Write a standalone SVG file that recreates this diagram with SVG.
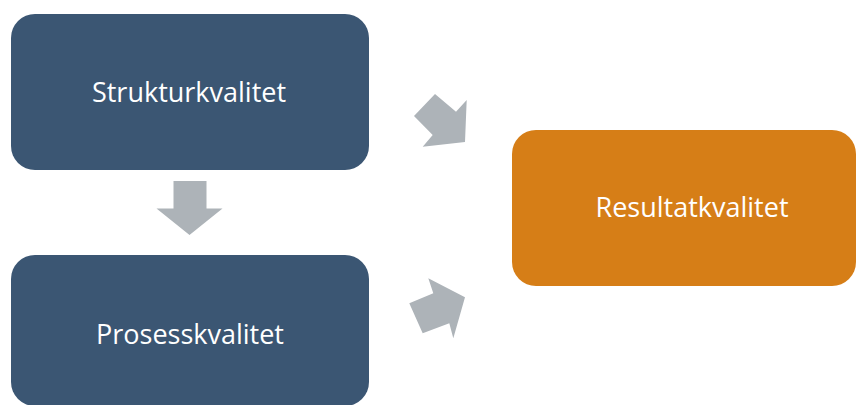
<svg xmlns="http://www.w3.org/2000/svg" width="857" height="405" viewBox="0 0 857 405">
<style>
.blue{fill:#3B5673}
.orange{fill:#D67E17}
.arrow{fill:#ADB3B8}
.lbl{font-family:"Open Sans","Liberation Sans",sans-serif;font-size:27px;fill:#FFFFFF;text-anchor:middle}
</style>
<rect width="857" height="405" fill="#FFFFFF"/>
<g id="node-struktur">
<rect class="blue" x="11" y="14" width="358" height="156" rx="24" ry="24"/>
<text class="lbl" x="189" y="102">Strukturkvalitet</text>
</g>
<g id="node-prosess">
<rect class="blue" x="11" y="255" width="358" height="151" rx="24" ry="24"/>
<text class="lbl" x="190" y="344">Prosesskvalitet</text>
</g>
<g id="node-resultat">
<rect class="orange" x="512" y="130" width="344" height="156" rx="24" ry="24"/>
<text class="lbl" x="692" y="217">Resultatkvalitet</text>
</g>
<g id="connectors">
<polygon class="arrow" points="173.5,181 206.5,181 206.5,208.5 222.5,208.5 189.5,235 156.5,208.5 173.5,208.5"/>
<polygon class="arrow" points="435,94 456,111.7 466.7,100 465,142 422.7,146.7 432.7,135 414,116"/>
<polygon class="arrow" points="409.3,303.3 433.3,293.3 428.3,278.3 465,297.3 453.3,338.3 449.3,323.3 422.7,333.3"/>
</g>
</svg>
